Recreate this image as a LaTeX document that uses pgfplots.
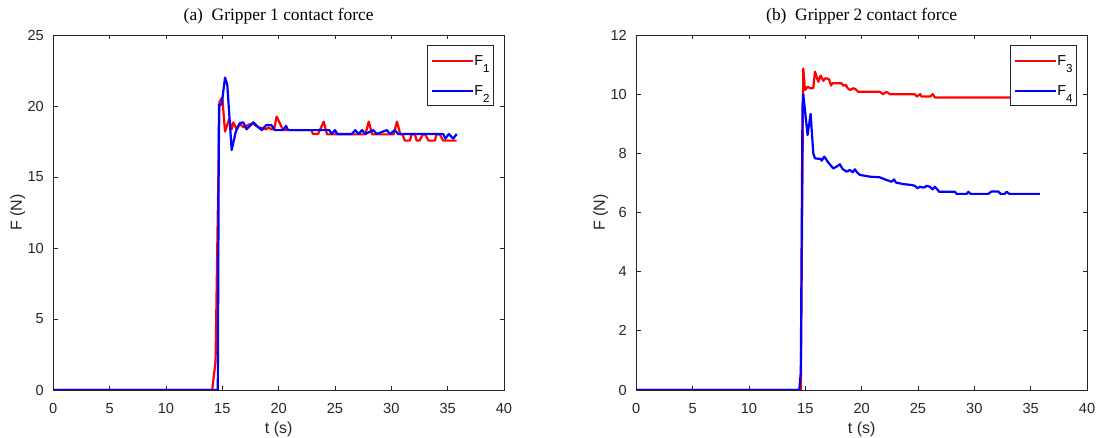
\documentclass[border=0pt]{standalone}
\usepackage{fontspec}
\setmainfont{Liberation Sans}
\newfontfamily\titlefont{Liberation Serif}
\usepackage{pgfplots}
\pgfplotsset{compat=1.18}
\definecolor{mgray}{RGB}{38,38,38}

\newcommand{\lsub}[1]{F\raisebox{-3.3pt}{\fontsize{5.8}{6}\selectfont #1}}

\pgfplotsset{
  mlab/.style={
    scale only axis,
    width=225.35pt, height=177.5pt,
    xmin=0, xmax=40,
    xtick={0,5,...,40},
    tick align=inside,
    major tick length=2.2pt,
    axis line style={draw=mgray, line width=0.45pt},
    every tick/.style={mgray, line width=0.45pt},
    /pgf/number format/assume math mode=true,
    ticklabel style={font=\fontsize{7.3}{8.5}\selectfont, text=mgray},
    xticklabel style={yshift=-3pt},
    yticklabel style={xshift=-1.2pt},
    xlabel style={at={(axis description cs:0.5,0)}, anchor=center, yshift=-19.5pt, font=\fontsize{8}{9.5}\selectfont, text=mgray},
    every axis y label/.style={at={(axis description cs:-0.079,0.5)}, anchor=center, rotate=90, font=\fontsize{8}{9.5}\selectfont, text=mgray},
    every axis title shift=0pt,
    title style={at={(axis description cs:0.5,1)}, anchor=center, yshift=9.25pt, font=\titlefont\fontsize{8.7}{10}\selectfont, text=black},
    legend style={at={(axis description cs:0.978,0.973)}, anchor=north east,
      draw=mgray, line width=0.45pt, fill=white,
      font=\fontsize{7.2}{8}\selectfont, inner xsep=2pt, inner ysep=0pt, row sep=0pt,
      nodes={inner sep=0pt, text height=10.35pt, text depth=4.65pt},
      /tikz/every even column/.append style={column sep=2pt}},
    legend cell align=left,
    legend image code/.code={\draw[#1, line width=1pt] (0pt,-0.5pt) -- (20.5pt,-0.5pt);},
    every axis plot/.append style={line width=1.1pt, line join=round},
  }
}

\begin{document}
\begin{tikzpicture}
\useasboundingbox (0,0) rectangle (549pt,219pt);

% (a) gripper 1
\begin{axis}[mlab, at={(26.65pt,24pt)}, anchor=south west,
  ymin=0, ymax=25, ytick={0,5,...,25},
  title={(a)\ \ Gripper 1 contact force},
  xlabel={t (s)}, ylabel={F (N)}]
\addplot[red] coordinates {
(0,0)(14.1,0)(14.4,2.0)(14.75,20.3)(15.0,20.6)(15.24,18.2)(15.6,19.05)(15.83,18.36)
(15.97,18.85)(16.27,18.36)(16.5,18.75)(16.9,18.5)(17.15,18.6)(17.45,18.73)(17.75,18.75)
(18.2,18.5)(18.5,18.45)(18.9,18.36)(19.1,18.5)(19.35,18.36)(19.6,18.36)(19.82,19.25)
(20.4,18.3)(22.9,18.3)(23.05,18.03)(23.5,18.03)(24.0,18.9)(24.3,18.0)(27.7,18.0)
(28.0,18.9)(28.3,18.0)(30.2,18.0)(30.5,18.9)(30.8,18.0)(31.0,18.0)(31.2,17.56)
(31.65,17.56)(31.8,18.0)(32.1,18.0)(32.25,17.56)(32.5,17.56)(32.8,18.0)(33.0,18.0)
(33.3,17.56)(33.87,17.56)(34.0,18.0)(34.3,18.0)(34.6,17.56)(35.8,17.56)};
\addplot[blue] coordinates {
(0,0)(14.6,0)(14.7,20.1)(14.94,20.1)(15.24,22.0)(15.44,21.5)(15.83,16.9)(16.2,18.2)
(16.57,18.8)(16.86,18.85)(17.16,18.36)(17.75,18.85)(18.2,18.5)(18.5,18.3)(18.9,18.66)
(19.35,18.66)(19.67,18.3)(20.4,18.3)(20.65,18.6)(20.85,18.3)(24.5,18.3)(24.7,18.03)
(25.0,18.3)(25.2,18.03)(26.5,18.03)(26.8,18.3)(27.1,18.03)(27.4,18.3)(27.7,18.03)
(28.4,18.3)(28.7,18.03)(29.6,18.3)(29.9,18.03)(30.3,18.3)(30.6,18.03)(34.6,18.03)
(34.8,17.7)(35.1,18.03)(35.5,17.7)(35.8,18.03)};
\legend{\lsub{1}, \lsub{2}}
\end{axis}

% (b) gripper 2
\begin{axis}[mlab, at={(318.15pt,24pt)}, anchor=south west,
  ymin=0, ymax=12, ytick={0,2,...,12},
  title={(b)\ \ Gripper 2 contact force},
  xlabel={t (s)}, ylabel={F (N)}]
\addplot[red] coordinates {
(0,0)(14.6,0)(14.82,10.87)(14.97,10.14)(15.2,10.25)(15.45,10.2)(15.71,10.2)(15.86,10.76)
(16.15,10.42)(16.36,10.63)(16.6,10.45)(16.8,10.54)(17.1,10.51)(17.28,10.29)(17.42,10.37)
(18.2,10.37)(18.37,10.29)(18.6,10.31)(18.76,10.2)(18.96,10.14)(19.26,10.2)(19.45,10.17)
(19.7,10.08)(21.6,10.08)(21.9,10.0)(22.2,10.08)(22.5,10.0)(24.7,10.0)(24.9,9.92)
(25.2,10.0)(25.3,9.92)(26.1,9.92)(26.3,10.0)(26.5,9.89)(35.8,9.89)};
\addplot[blue] coordinates {
(0,0)(14.46,0)(14.6,0.6)(14.75,9.6)(14.82,10.0)(15.2,8.62)(15.47,9.33)(15.71,8.0)
(15.86,7.83)(16.36,7.81)(16.45,7.75)(16.68,7.89)(17.04,7.69)(17.48,7.49)(17.78,7.55)
(18.07,7.63)(18.31,7.47)(18.67,7.38)(18.96,7.44)(19.2,7.36)(19.4,7.46)(19.6,7.35)
(19.85,7.27)(20.74,7.21)(21.6,7.19)(22.2,7.1)(22.66,7.04)(22.87,7.12)(23.05,7.01)
(23.7,6.96)(24.44,6.93)(24.73,6.9)(24.94,6.82)(25.17,6.87)(25.53,6.84)(25.77,6.9)
(26.06,6.87)(26.3,6.78)(26.5,6.87)(26.89,6.7)(28.28,6.7)(28.43,6.63)(29.32,6.63)
(29.46,6.7)(29.67,6.63)(31.23,6.63)(31.53,6.71)(32.12,6.71)(32.33,6.63)(32.7,6.63)
(32.87,6.7)(33.1,6.63)(35.82,6.63)};
\legend{\lsub{3}, \lsub{4}}
\end{axis}
\end{tikzpicture}
\end{document}
